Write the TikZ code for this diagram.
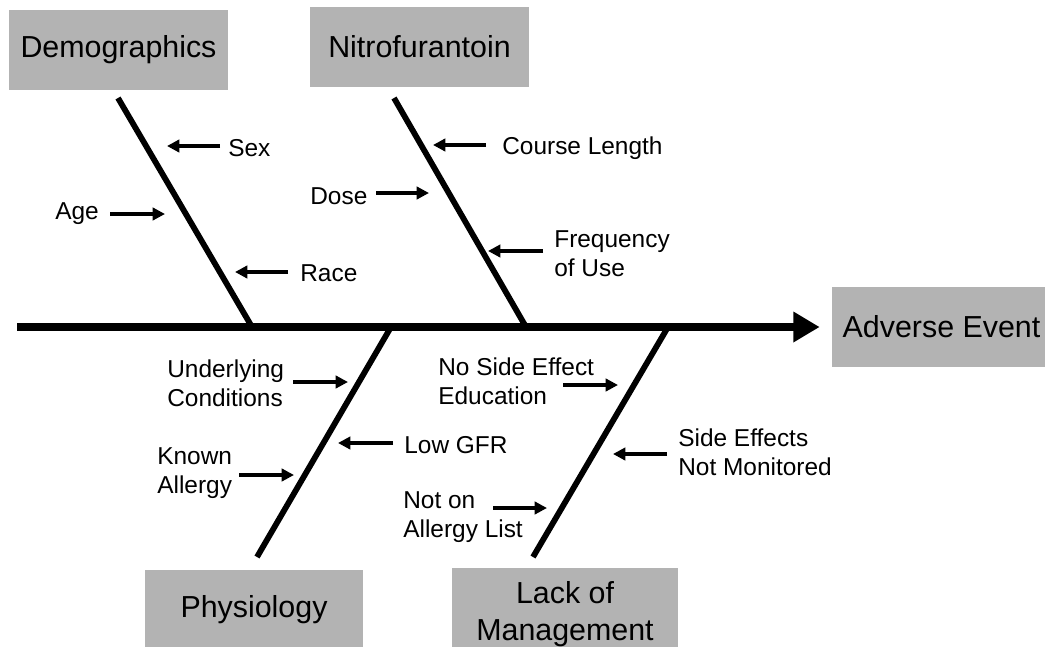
\documentclass[tikz,border=0pt]{standalone}
\usepackage{fontspec}
\setmainfont{Liberation Sans}
\usetikzlibrary{arrows.meta,positioning}
\definecolor{boxgray}{RGB}{179,179,179}

\begin{document}
\begin{tikzpicture}[x=0.02cm, y=-0.02cm,
  cat/.style={fill=boxgray, minimum width=4.38cm, minimum height=1.6cm, align=center, inner sep=0pt, font=\fontsize{17.3}{20.8}\selectfont},
  lbl/.style={anchor=west, inner sep=0pt, align=left, font=\fontsize{13.9}{16.5}\selectfont},
  spine/.style={line width=4.8pt, -{Triangle[length=15pt,width=16.5pt]}},
  bone/.style={line width=3.3pt},
  cause/.style={line width=1.9pt, -{Triangle[length=7pt,width=7pt]}}]
  \useasboundingbox (0,0) rectangle (1045,646);
  \clip (0,0) rectangle (1045,646);

  % categories
  \node[cat] (demo) at (118.5,50) {Demographics};
  \node[cat] (nitro) at (419.5,47) {Nitrofurantoin};
  \node[cat] (effect) at (941.5,327) {Adverse Event};
  \node[cat] (phys) at (254,610) {Physiology};
  \node[cat, minimum width=4.52cm, minimum height=1.84cm] (mgmt) at (565,614) {Lack of\\Management};

  % spine and bones
  \coordinate (head) at (17,327);
  \draw[spine, shorten >=0.24cm] (head) -- (effect);
  \coordinate (d1) at (118,98);  \coordinate (d2) at (252,327);
  \coordinate (n1) at (394,98);  \coordinate (n2) at (526,327);
  \coordinate (p1) at (391,327); \coordinate (p2) at (257,557);
  \coordinate (m1) at (668,327); \coordinate (m2) at (533,557);
  \draw[bone] (d1) -- (d2);
  \draw[bone] (n1) -- (n2);
  \draw[bone] (p1) -- (p2);
  \draw[bone] (m1) -- (m2);

  % causes
  \node[lbl] (sex) at (228,148) {Sex};
  \node[lbl] (age) at (55,214) {Age};
  \node[lbl] (race) at (300,273) {Race};
  \node[lbl] (course) at (502,148) {Course Length};
  \node[lbl] (dose) at (310,196) {Dose};
  \node[lbl] (freq) at (554,254) {Frequency\\of Use};
  \node[lbl] (under) at (167,383) {Underlying\\Conditions};
  \node[lbl] (gfr) at (404,445) {Low GFR};
  \node[lbl] (known) at (157,473) {Known\\Allergy};
  \node[lbl] (educ) at (438,381) {No Side Effect\\Education};
  \node[lbl] (monit) at (678,452) {Side Effects\\Not Monitored};
  \node[lbl] (alist) at (403,517) {Not on\\Allergy List};

  \foreach \n/\tx/\hx/\y in {sex/220/167/146, age/110/165/214, race/288/235/272,
      course/486/433/145, dose/376/429/193, freq/543/488/251,
      under/293/348/382, gfr/393/338/443, known/239/294/475,
      educ/563/618/385, monit/667/613/454, alist/493/547/508} {
    \coordinate (\n-tail) at (\tx,\y);
    \coordinate (\n-tip) at (\hx,\y);
    \draw[cause] (\n-tail) -- (\n-tip);
  }
\end{tikzpicture}
\end{document}
